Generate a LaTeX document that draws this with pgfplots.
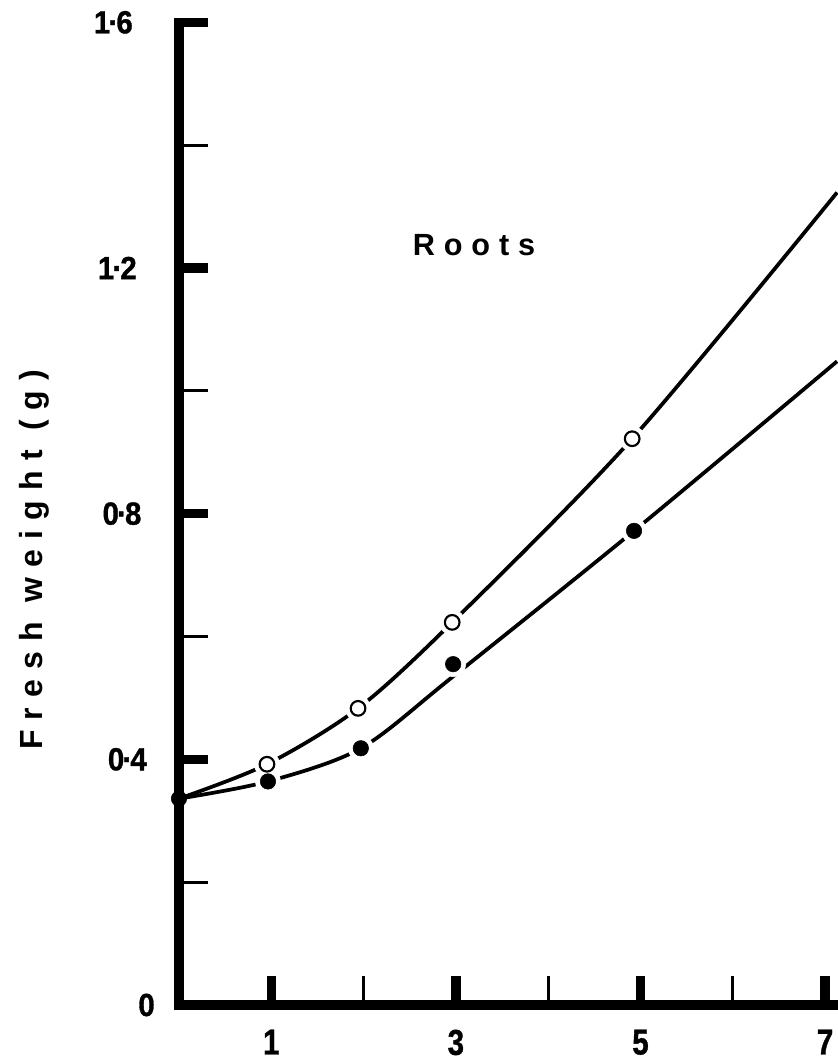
\documentclass[border=0pt]{standalone}
\usepackage{fontspec}
\setmainfont{Liberation Sans}
\newfontfamily\spacedfont{Liberation Sans}[LetterSpace=29]
\newfontfamily\ylabfont{Liberation Sans}[LetterSpace=32]
\newfontfamily\ytickfont{Liberation Sans Bold}[FakeStretch=0.92, FakeBold=1]
\newfontfamily\xtickfont{Liberation Sans Bold}[FakeStretch=0.82, FakeBold=1]
\usepackage{pgfplots}
\pgfplotsset{compat=1.18}
\newcommand\md{\kern-1.4pt·\kern-1.4pt}
\begin{document}
\begin{tikzpicture}
\begin{axis}[
  scale only axis, width=494.25pt, height=737pt,
  xmin=0, xmax=7.14, ymin=0, ymax=1.6,
  axis x line*=bottom, axis y line*=left,
  axis line style={line width=7pt, line cap=rect},
  xtick={1,3,5,7}, xticklabels={1,3,5,7}, minor xtick={2,4,6},
  ytick={0,0.4,0.8,1.2,1.6},
  yticklabels={0,0\md4\kern6pt,0\md8\kern10pt,1\md2\kern13.5pt,1\md6\kern16.5pt},
  minor ytick={0.2,0.6,1.0,1.4},
  tick align=inside,
  major tick length=22pt, minor tick length=22pt,
  major tick style={line width=7pt, black},
  minor tick style={line width=2.2pt, black},
  yticklabel style={font=\ytickfont\fontsize{24}{28}\selectfont, anchor=east, inner sep=0pt, xshift=-18pt},
  xticklabel style={font=\xtickfont\fontsize{27}{30}\selectfont, yshift=-15pt},
  clip=false,
]
% curves
\addplot[line width=2.8pt, smooth, black] coordinates {(0,0.336)(0.964,0.364)(1.97,0.418)(2.97,0.535)(4.93,0.772)(7.13,1.048)};
\addplot[line width=2.8pt, smooth, black] coordinates {(0,0.336)(0.953,0.392)(1.94,0.483)(2.96,0.623)(4.91,0.922)(7.13,1.323)};
% white halos that break the lines around the marks
\addplot[only marks, white, mark=*, mark size=9.5pt] coordinates {(0.953,0.392)(1.94,0.483)(2.96,0.623)(4.91,0.922)(0.964,0.364)(1.97,0.418)(2.97,0.555)(4.93,0.772)};
% open circles
\addplot[only marks, black, mark=*, mark size=5.5pt, mark options={draw=black, fill=white, line width=1.6pt}] coordinates {(0.953,0.392)(1.94,0.483)(2.96,0.623)(4.91,0.922)};
% filled circles
\addplot[only marks, black, mark=*, mark size=5.8pt, mark options={draw=black, fill=black}] coordinates {(0,0.336)(0.964,0.364)(1.97,0.418)(2.97,0.555)(4.93,0.772)};
\node[font=\spacedfont\bfseries\fontsize{23}{27}\selectfont] at (axis cs:3.196,1.238) {Roots};
\node[rotate=90, font=\ylabfont\bfseries\fontsize{24}{28}\selectfont] at (axis cs:-1.571,0.725) {Fresh weight (g)};
\end{axis}
\pgfresetboundingbox
\path[use as bounding box] (-134.25pt,-43.5pt) rectangle (494.25pt,753.75pt);
\end{tikzpicture}
\end{document}
